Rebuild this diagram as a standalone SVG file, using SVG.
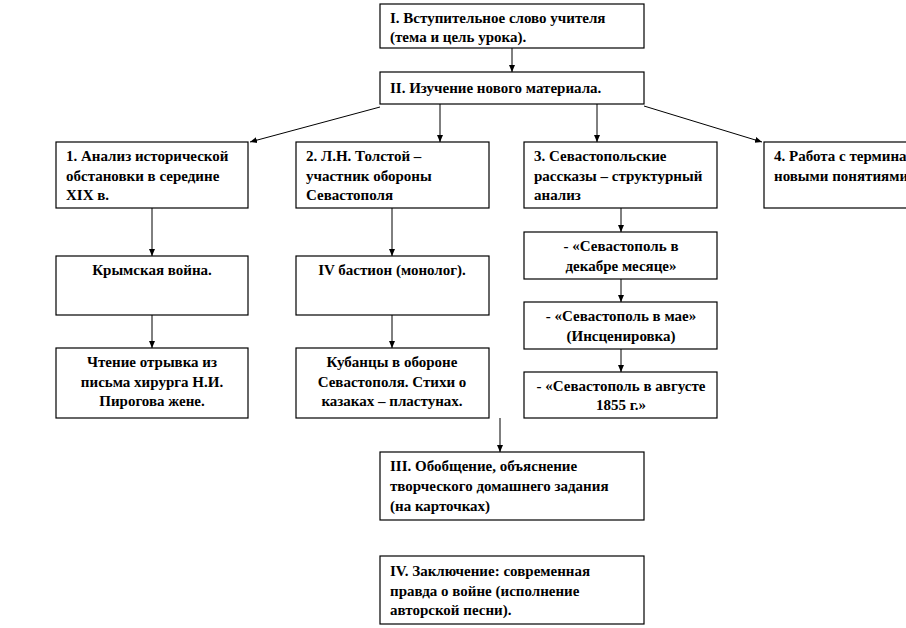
<svg xmlns="http://www.w3.org/2000/svg" width="906" height="628" viewBox="0 0 906 628">
<style>
.b{fill:#fff;stroke:#000;stroke-width:1.2}
.t{font-family:"Liberation Serif","Times New Roman",serif;font-weight:bold;font-size:15px;fill:#000}
.c{text-anchor:middle}
.l{stroke:#000;stroke-width:1;fill:none;marker-end:url(#a)}
</style>
<defs>
<marker id="a" markerWidth="8" markerHeight="8" refX="7" refY="4" orient="auto" markerUnits="userSpaceOnUse">
<path d="M0,1 L7,4 L0,7 Z" fill="#000"/>
</marker>
</defs>
<rect width="906" height="628" fill="#fff"/>
<g id="connectors">
<line class="l" x1="512" y1="48" x2="512" y2="72"/>
<line class="l" x1="380" y1="107" x2="250" y2="142"/>
<line class="l" x1="440" y1="104" x2="440" y2="142"/>
<line class="l" x1="597" y1="104" x2="597" y2="142"/>
<line class="l" x1="644" y1="106" x2="762" y2="142"/>
<line class="l" x1="152" y1="208" x2="152" y2="256"/>
<line class="l" x1="152" y1="315" x2="152" y2="348"/>
<line class="l" x1="392" y1="208" x2="392" y2="256"/>
<line class="l" x1="392" y1="315" x2="392" y2="348"/>
<line class="l" x1="621" y1="208" x2="621" y2="232"/>
<line class="l" x1="621" y1="279" x2="621" y2="302"/>
<line class="l" x1="621" y1="349" x2="621" y2="372"/>
<line class="l" x1="500" y1="418" x2="500" y2="452"/>
</g>
<g id="n1"><rect class="b" x="380" y="4" width="264" height="44"/>
<text class="t" x="390" y="23">I. Вступительное слово учителя</text>
<text class="t" x="390" y="42">(тема и цель урока).</text></g>
<g id="n2"><rect class="b" x="380" y="72" width="264" height="32"/>
<text class="t" x="390" y="93">II. Изучение нового материала.</text></g>
<g id="n3"><rect class="b" x="56" y="142" width="192" height="66"/>
<text class="t" x="66" y="161">1. Анализ исторической</text>
<text class="t" x="66" y="181">обстановки в середине</text>
<text class="t" x="66" y="200">XIX в.</text></g>
<g id="n4"><rect class="b" x="296" y="142" width="193" height="66"/>
<text class="t" x="306" y="161">2. Л.Н. Толстой –</text>
<text class="t" x="306" y="181">участник обороны</text>
<text class="t" x="306" y="200">Севастополя</text></g>
<g id="n5"><rect class="b" x="524" y="142" width="193" height="66"/>
<text class="t" x="534" y="161">3. Севастопольские</text>
<text class="t" x="534" y="181">рассказы – структурный</text>
<text class="t" x="534" y="200">анализ</text></g>
<g id="n6"><rect class="b" x="764" y="142" width="200" height="66"/>
<text class="t" x="774" y="161">4. Работа с терминами и</text>
<text class="t" x="774" y="181">новыми понятиями</text></g>
<g id="n7"><rect class="b" x="56" y="256" width="192" height="59"/>
<text class="t c" x="152" y="275">Крымская война.</text></g>
<g id="n8"><rect class="b" x="56" y="348" width="192" height="70"/>
<text class="t c" x="152" y="367">Чтение отрывка из</text>
<text class="t c" x="152" y="387">письма хирурга Н.И.</text>
<text class="t c" x="152" y="406">Пирогова жене.</text></g>
<g id="n9"><rect class="b" x="296" y="256" width="193" height="59"/>
<text class="t c" x="392" y="275">IV бастион (монолог).</text></g>
<g id="n10"><rect class="b" x="296" y="348" width="193" height="70"/>
<text class="t c" x="392" y="367">Кубанцы в обороне</text>
<text class="t c" x="392" y="387">Севастополя. Стихи о</text>
<text class="t c" x="392" y="406">казаках  –  пластунах.</text></g>
<g id="n11"><rect class="b" x="524" y="232" width="193" height="47"/>
<text class="t c" x="621" y="251">- «Севастополь в</text>
<text class="t c" x="621" y="271">декабре месяце»</text></g>
<g id="n12"><rect class="b" x="524" y="302" width="193" height="47"/>
<text class="t c" x="621" y="321">- «Севастополь в мае»</text>
<text class="t c" x="621" y="341">(Инсценировка)</text></g>
<g id="n13"><rect class="b" x="524" y="372" width="193" height="46"/>
<text class="t c" x="621" y="391">- «Севастополь в августе</text>
<text class="t c" x="621" y="410">1855 г.»</text></g>
<g id="n14"><rect class="b" x="380" y="452" width="264" height="68"/>
<text class="t" x="390" y="471">III. Обобщение, объяснение</text>
<text class="t" x="390" y="491">творческого домашнего  задания</text>
<text class="t" x="390" y="511">(на карточках)</text></g>
<g id="n15"><rect class="b" x="380" y="556" width="264" height="68"/>
<text class="t" x="390" y="576">IV. Заключение: современная</text>
<text class="t" x="390" y="596">правда о войне (исполнение</text>
<text class="t" x="390" y="615">авторской песни).</text></g>
</svg>
